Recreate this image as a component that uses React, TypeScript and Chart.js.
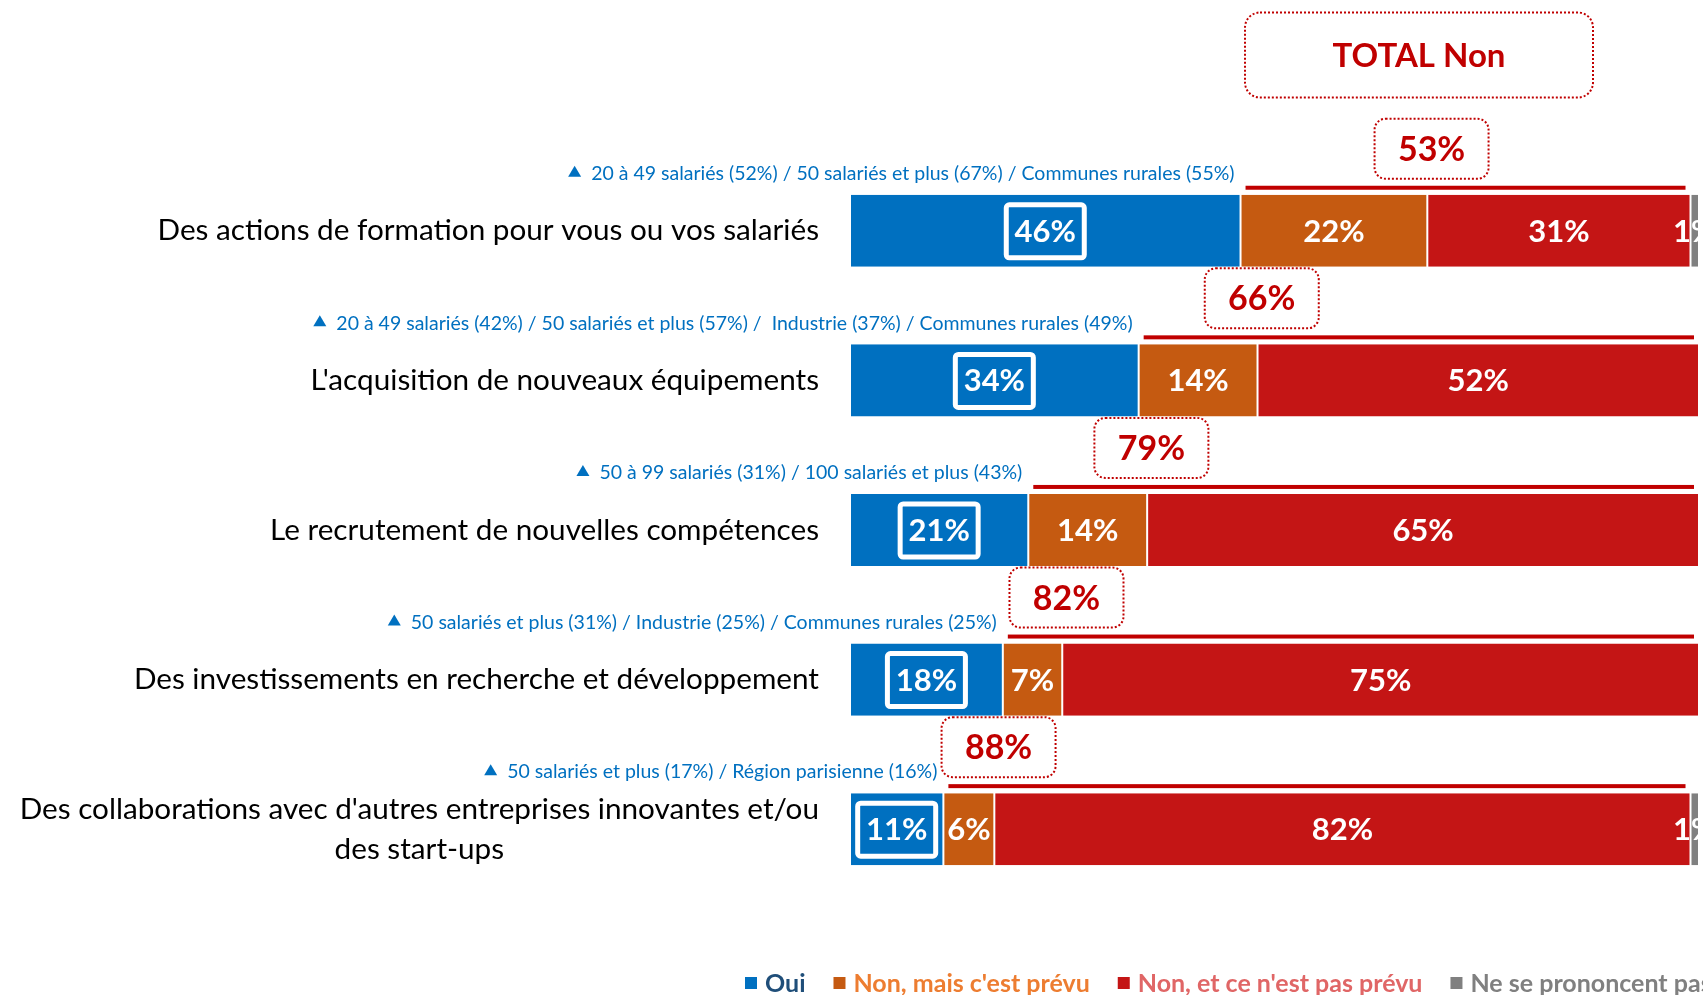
import React, { useEffect, useRef } from "react";
import { Chart, registerables } from "chart.js";

Chart.register(...registerables);

// ---------- DATA ----------
const categories: string[][] = [
  ["Des actions de formation pour vous ou vos salariés"],
  ["L'acquisition de nouveaux équipements"],
  ["Le recrutement de nouvelles compétences"],
  ["Des investissements en recherche et développement"],
  ["Des collaborations avec d'autres entreprises innovantes et/ou", "des start-ups"],
];
const seriesNames = ["Oui", "Non, mais c'est prévu", "Non, et ce n'est pas prévu", "Ne se prononcent pas"];
const oui = [46, 34, 21, 18, 11];
const nonPrevu = [22, 14, 14, 7, 6];
const nonPasPrevu = [31, 52, 65, 75, 82];
const nsp = [1, 0, 0, 0, 1];
const totalNon = [53, 66, 79, 82, 88];
const totalTitle = "TOTAL Non";
const subgroupNotes = [
  "20 à 49 salariés (52%) / 50 salariés et plus (67%) / Communes rurales (55%)",
  "20 à 49 salariés (42%) / 50 salariés et plus (57%) /  Industrie (37%) / Communes rurales (49%)",
  "50 à 99 salariés (31%) / 100 salariés et plus (43%)",
  "50 salariés et plus (31%) / Industrie (25%) / Communes rurales (25%)",
  "50 salariés et plus (17%) / Région parisienne (16%)",
];

// ---------- STYLE ----------
const FONT = "Lato, 'Open Sans', sans-serif";
const barColors = ["#0070C0", "#C55A11", "#C41515", "#808080"];
const legendTextColors = ["#1F4E79", "#ED7D31", "#E06666", "#808080"];
const RED = "#C00000";
const BLUE_TXT = "#0070C0";

function roundRect(ctx: CanvasRenderingContext2D, x: number, y: number, w: number, h: number, r: number) {
  ctx.beginPath();
  ctx.moveTo(x + r, y);
  ctx.lineTo(x + w - r, y);
  ctx.arcTo(x + w, y, x + w, y + r, r);
  ctx.lineTo(x + w, y + h - r);
  ctx.arcTo(x + w, y + h, x + w - r, y + h, r);
  ctx.lineTo(x + r, y + h);
  ctx.arcTo(x, y + h, x, y + h - r, r);
  ctx.lineTo(x, y + r);
  ctx.arcTo(x, y, x + r, y, r);
  ctx.closePath();
}

function dottedBox(ctx: CanvasRenderingContext2D, cx: number, cy: number, w: number, h: number, r: number) {
  ctx.save();
  roundRect(ctx, cx - w / 2, cy - h / 2, w, h, r);
  ctx.fillStyle = "#fff";
  ctx.fill();
  ctx.setLineDash([2, 2]);
  ctx.lineWidth = 2;
  ctx.strokeStyle = RED;
  ctx.stroke();
  ctx.restore();
}

const overlayPlugin = {
  id: "overlay",
  afterDatasetsDraw(chart: any) {
    const { ctx, chartArea, scales } = chart;
    const xs = scales.x;
    const ys = scales.y;
    ctx.save();

    // value labels inside bars
    chart.data.datasets.forEach((ds: any, di: number) => {
      const meta = chart.getDatasetMeta(di);
      meta.data.forEach((el: any, j: number) => {
        const v = ds.data[j];
        if (!v) return;
        const p = el.getProps(["x", "base", "y", "height"], true);
        const cx = (p.x + p.base) / 2;
        ctx.font = `bold 31px ${FONT}`;
        ctx.fillStyle = "#fff";
        ctx.textAlign = "center";
        ctx.textBaseline = "middle";
        ctx.fillText(`${v}%`, cx, p.y + 1);
        if (di === 0) {
          ctx.save();
          ctx.lineWidth = 5;
          ctx.strokeStyle = "#fff";
          roundRect(ctx, cx - 39, p.y - 26, 78, 53, 3);
          ctx.stroke();
          ctx.restore();
        }
      });
    });

    const meta0 = chart.getDatasetMeta(0);
    categories.forEach((lines, j) => {
      const el = meta0.data[j];
      const p = el.getProps(["y", "height"], true);
      const top = p.y - p.height / 2;
      const yc = ys.getPixelForValue(j);

      // red "total non" line
      const x0 = xs.getPixelForValue(oui[j]) + 5;
      const x1 = xs.getPixelForValue(oui[j] + nonPrevu[j] + nonPasPrevu[j]) - 5;
      ctx.fillStyle = RED;
      ctx.fillRect(x0, top - 9, x1 - x0, 4);

      // subgroup note (right aligned just before the "Non" part)
      const noteRight = xs.getPixelForValue(oui[j]) - 6;
      ctx.font = `19.5px ${FONT}`;
      ctx.fillStyle = BLUE_TXT;
      ctx.textAlign = "right";
      ctx.textBaseline = "middle";
      const ny = top - 21;
      ctx.fillText(subgroupNotes[j], noteRight, ny);
      const tw = ctx.measureText(subgroupNotes[j]).width;
      const tx = noteRight - tw - 10;
      ctx.beginPath();
      ctx.moveTo(tx - 13, ny + 3);
      ctx.lineTo(tx, ny + 3);
      ctx.lineTo(tx - 6.5, ny - 8);
      ctx.closePath();
      ctx.fill();

      // total non box
      const bx = xs.getPixelForValue(oui[j] + nonPrevu[j] + 0.5);
      const by = top - 46;
      dottedBox(ctx, bx, by, 114, 60, 11);
      ctx.font = `bold 34px ${FONT}`;
      ctx.fillStyle = RED;
      ctx.textAlign = "center";
      ctx.textBaseline = "middle";
      ctx.fillText(`${totalNon[j]}%`, bx, by + 1);

      // category labels
      ctx.font = `29.7px ${FONT}`;
      ctx.fillStyle = "#000";
      const widths = lines.map((l) => ctx.measureText(l).width);
      const maxW = Math.max(...widths);
      const right = chartArea.left - 31;
      const center = right - maxW / 2;
      const lh = 40;
      lines.forEach((l, k) => {
        ctx.textAlign = "center";
        ctx.fillText(l, center, yc - ((lines.length - 1) * lh) / 2 + k * lh);
      });
    });

    // header box
    dottedBox(ctx, 1419, 55, 348, 85, 15);
    ctx.font = `bold 33px ${FONT}`;
    ctx.fillStyle = RED;
    ctx.textAlign = "center";
    ctx.textBaseline = "middle";
    ctx.fillText(totalTitle, 1419, 56);

    // legend
    let lx = 745;
    const ly = 983;
    ctx.font = `bold 25px ${FONT}`;
    ctx.textAlign = "left";
    seriesNames.forEach((name, i) => {
      ctx.fillStyle = barColors[i];
      ctx.fillRect(lx, ly - 6, 12, 12);
      lx += 20;
      ctx.fillStyle = legendTextColors[i];
      ctx.fillText(name, lx, ly + 1);
      lx += ctx.measureText(name).width + 28;
    });

    ctx.restore();
  },
};

export default function App() {
  const ref = useRef<HTMLCanvasElement | null>(null);
  useEffect(() => {
    if (!ref.current) return;
    const series = [oui, nonPrevu, nonPasPrevu, nsp];
    const chart = new Chart(ref.current, {
      type: "bar",
      data: {
        labels: categories.map((c) => c.join(" ")),
        datasets: series.map((d, i) => ({
          label: seriesNames[i],
          data: d,
          backgroundColor: barColors[i],
          borderColor: "#ffffff",
          borderWidth: { left: 1, right: 1, top: 0, bottom: 0 },
          borderSkipped: false,
          categoryPercentage: 1,
          barPercentage: 0.482,
        })),
      },
      options: {
        indexAxis: "y",
        responsive: false,
        animation: false,
        devicePixelRatio: 1,
        layout: { padding: { left: 850, right: 4, top: 156, bottom: 91 } },
        plugins: { legend: { display: false }, tooltip: { enabled: false } },
        scales: {
          x: { stacked: true, min: 0, max: 100, display: false },
          y: { stacked: true, display: false, offset: true },
        },
      },
      plugins: [overlayPlugin],
    });
    return () => chart.destroy();
  }, []);
  return (
    <div style={{ position: "fixed", left: 0, top: 0, width: 1703, height: 995, background: "#fff" }}>
      <canvas ref={ref} width={1703} height={995} style={{ display: "block" }} />
    </div>
  );
}
